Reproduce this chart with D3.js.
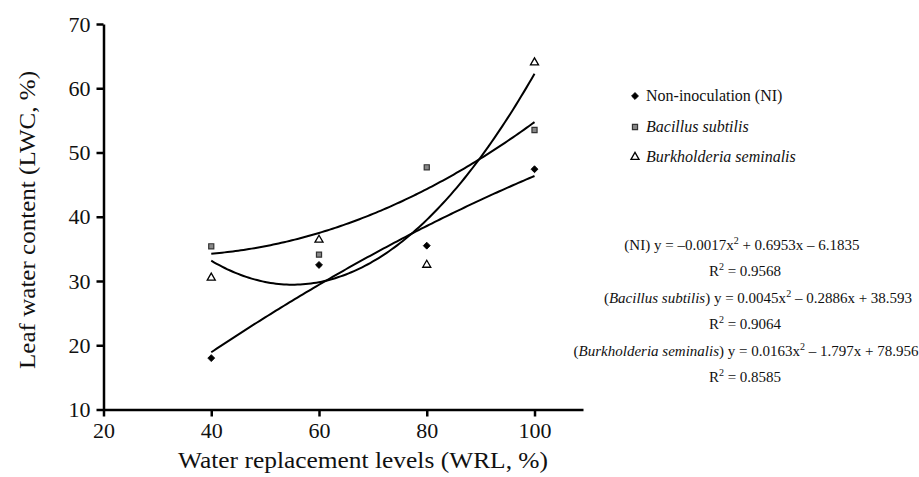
<!DOCTYPE html>
<html><head><meta charset="utf-8">
<script src="https://cdn.jsdelivr.net/npm/d3@7"></script>
<style>body{margin:0;background:#fff}svg{display:block}text{font-family:"Liberation Serif","DejaVu Serif",serif;fill:#111}</style>
</head><body><div id="c"></div>
<script>
const levels = [40, 60, 80, 100];
const seriesNames = ["Non-inoculation (NI)", "Bacillus subtilis", "Burkholderia seminalis"];
const niValues = [18.0, 32.5, 35.5, 47.4];
const bsValues = [35.4, 34.1, 47.7, 53.5];
const bkValues = [30.5, 36.4, 32.5, 64.0];
// quadratic trend coefficients [a, b, c] shown on the chart: y = a x^2 + b x + c
const niFit = [-0.0017, 0.6953, -6.1835];
const bsFit = [0.0045, -0.2886, 38.593];
const bkFit = [0.0163, -1.797, 78.956];
const r2Values = ["0.9568", "0.9064", "0.8585"];
const xTicks = [20, 40, 60, 80, 100];
const yTicks = [10, 20, 30, 40, 50, 60, 70];

const W = 919, H = 477;
const svg = d3.select("#c").append("svg").attr("width", W).attr("height", H);
const x = d3.scaleLinear().domain([20, 109]).range([103.5, 583]);
const y = d3.scaleLinear().domain([10, 70]).range([409.5, 24]);

const xAx = svg.append("g").attr("transform", `translate(0,${y(10)})`)
  .call(d3.axisBottom(x).tickValues(xTicks).tickSize(7).tickPadding(6).tickSizeOuter(0));
const yAx = svg.append("g").attr("transform", `translate(${x(20)},0)`)
  .call(d3.axisLeft(y).tickValues(yTicks).tickSize(7).tickPadding(6).tickSizeOuter(0));
[xAx, yAx].forEach(g => {
  g.attr("font-family", null);
  g.select(".domain").attr("stroke", "#000").attr("stroke-width", 2.5);
  g.selectAll(".tick line").attr("stroke", "#000").attr("stroke-width", 2.5);
  g.selectAll(".tick text").attr("font-size", 22).attr("fill", "#111");
});

svg.append("text").attr("x", 363).attr("y", 468).attr("text-anchor", "middle")
  .attr("font-size", 23).attr("textLength", 370).attr("lengthAdjust", "spacingAndGlyphs")
  .text("Water replacement levels (WRL, %)");
svg.append("text").attr("transform", "translate(35,220) rotate(-90)").attr("text-anchor", "middle")
  .attr("font-size", 23).attr("textLength", 298).attr("lengthAdjust", "spacingAndGlyphs")
  .text("Leaf water content (LWC, %)");

const line = d3.line().x(d => x(d[0])).y(d => y(d[1]));
const xs = d3.range(40, 100.01, 0.5);
[niFit, bsFit, bkFit].forEach(f => {
  svg.append("path").datum(xs.map(v => [v, f[0]*v*v + f[1]*v + f[2]]))
    .attr("d", line).attr("fill", "none").attr("stroke", "#000").attr("stroke-width", 2);
});

const sqSym = d3.symbol().type(d3.symbolSquare);
const triSym = d3.symbol().type(d3.symbolTriangle);
const styles = [
  {d: sqSym.size(24)(), rot: 45, fill: "#000", stroke: "#000", sw: 0.8},
  {d: sqSym.size(26)(), rot: 0, fill: "#888", stroke: "#333", sw: 1.2},
  {d: triSym.size(28)(), rot: 0, fill: "#fff", stroke: "#000", sw: 1.3}
];
[niValues, bsValues, bkValues].forEach((vals, s) => {
  const st = styles[s];
  svg.append("g").selectAll("path").data(levels.map((l, i) => [l, vals[i]])).join("path")
    .attr("transform", d => `translate(${x(d[0])},${y(d[1])}) rotate(${st.rot})`)
    .attr("d", st.d).attr("fill", st.fill).attr("stroke", st.stroke).attr("stroke-width", st.sw);
});

// legend
const legY = [96, 127, 157];
seriesNames.forEach((n, i) => {
  const st = styles[i];
  svg.append("path").attr("transform", `translate(635,${legY[i]}) rotate(${st.rot})`).attr("d", st.d)
    .attr("fill", st.fill).attr("stroke", st.stroke).attr("stroke-width", st.sw);
  svg.append("text").attr("x", 646).attr("y", legY[i] + 5).attr("font-size", 16)
    .attr("font-style", i === 0 ? "normal" : "italic").text(n);
});

// equations
const eqs = [
  {cx: 742, y: 250, label: "NI", it: false, fit: niFit, r2: r2Values[0]},
  {cx: 758, y: 303, label: "Bacillus subtilis", it: true, fit: bsFit, r2: r2Values[1]},
  {cx: 746, y: 356, label: "Burkholderia seminalis", it: true, fit: bkFit, r2: r2Values[2]}
];
const fmt = (v) => String(Math.abs(v));
eqs.forEach(e => {
  const t = svg.append("text").attr("x", e.cx).attr("y", e.y).attr("text-anchor", "middle").attr("font-size", 15);
  t.append("tspan").text("(");
  t.append("tspan").attr("font-style", e.it ? "italic" : "normal").text(e.label);
  t.append("tspan").text(") y = " + (e.fit[0] < 0 ? "\u2013" : "") + fmt(e.fit[0]) + "x");
  t.append("tspan").attr("font-size", 10).attr("dy", -6).text("2");
  t.append("tspan").attr("dy", 6).text(" " + (e.fit[1] < 0 ? "\u2013" : "+") + " " + fmt(e.fit[1]) + "x " + (e.fit[2] < 0 ? "\u2013" : "+") + " " + fmt(e.fit[2]));
  const r = svg.append("text").attr("x", 745).attr("y", e.y + 26).attr("text-anchor", "middle").attr("font-size", 15);
  r.append("tspan").text("R");
  r.append("tspan").attr("font-size", 10).attr("dy", -6).text("2");
  r.append("tspan").attr("dy", 6).text(" = " + e.r2);
});
</script></body></html>
